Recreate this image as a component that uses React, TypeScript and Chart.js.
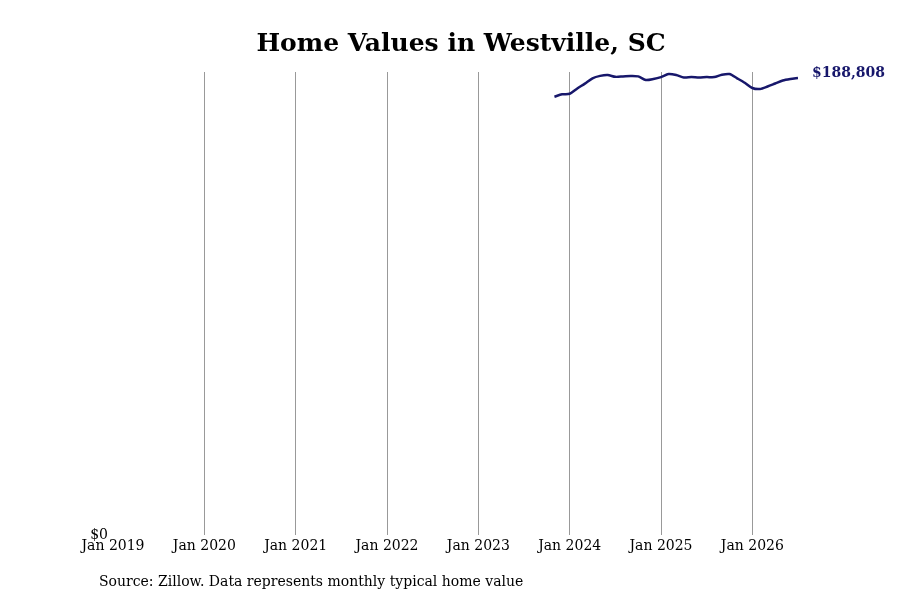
import { useEffect, useRef } from 'react'
import { Chart, registerables } from 'chart.js'
import type { Plugin } from 'chart.js'

Chart.register(...registerables)

const TITLE = 'Home Values in Westville, SC'
const SOURCE = 'Source: Zillow. Data represents monthly typical home value'

// x axis runs in months counted from Jan 2019
const tickLabels = ['Jan 2019', 'Jan 2020', 'Jan 2021', 'Jan 2022', 'Jan 2023', 'Jan 2024', 'Jan 2025', 'Jan 2026']

const months = [
  '2023-11', '2023-12',
  '2024-01', '2024-02', '2024-03', '2024-04', '2024-05', '2024-06',
  '2024-07', '2024-08', '2024-09', '2024-10', '2024-11', '2024-12',
  '2025-01', '2025-02', '2025-03', '2025-04', '2025-05', '2025-06',
  '2025-07', '2025-08', '2025-09', '2025-10', '2025-11', '2025-12',
  '2026-01', '2026-02', '2026-03', '2026-04', '2026-05', '2026-06',
  '2026-07',
]

const homeValues = [
  181100, 182100,
  182300, 184500, 186500, 188700, 189700, 190050,
  189300, 189450, 189650, 189500, 188000, 188400,
  189200, 190450, 190050, 189050, 189200, 189000,
  189200, 189200, 190180, 190460, 188700, 186870,
  184680, 184270, 185300, 186540, 187780, 188400,
  188808,
]

const NAVY = '#17176b'
const SERIF = '"DejaVu Serif", serif'

const monthIndex = (m: string) => {
  const [y, mo] = m.split('-').map(Number)
  return (y - 2019) * 12 + (mo - 1)
}

const textPlugin: Plugin<'line'> = {
  id: 'texts',
  afterDatasetsDraw(chart) {
    const { ctx } = chart
    ctx.save()
    ctx.fillStyle = '#000'
    ctx.textBaseline = 'middle'
    ctx.textAlign = 'center'
    ctx.font = `bold 25px ${SERIF}`
    ctx.fillText(TITLE, 461, 44)
    ctx.textAlign = 'left'
    ctx.font = `14px ${SERIF}`
    ctx.fillText(SOURCE, 99, 582)

    const pts = chart.getDatasetMeta(0).data
    const last = pts[pts.length - 1]
    if (last) {
      const v = homeValues[homeValues.length - 1]
      ctx.fillStyle = NAVY
      ctx.font = `bold 14px ${SERIF}`
      ctx.fillText('$' + v.toLocaleString('en-US'), last.x + 14, last.y - 5)
    }
    ctx.restore()
  },
}

export default function App() {
  const canvasRef = useRef<HTMLCanvasElement>(null)
  const chartRef = useRef<Chart | null>(null)

  useEffect(() => {
    document.body.style.margin = '0'
    if (!canvasRef.current) return
    chartRef.current?.destroy()

    chartRef.current = new Chart(canvasRef.current, {
      type: 'line',
      data: {
        datasets: [
          {
            label: 'Home value',
            data: months.map((m, i) => ({ x: monthIndex(m), y: homeValues[i] })),
            borderColor: NAVY,
            borderWidth: 2.5,
            pointRadius: 0,
            tension: 0.25,
            fill: false,
          },
        ],
      },
      options: {
        animation: false,
        responsive: true,
        maintainAspectRatio: false,
        layout: { padding: { left: 83, right: 102, top: 72, bottom: 40 } },
        plugins: {
          legend: { display: false },
          tooltip: { enabled: false },
        },
        scales: {
          x: {
            type: 'linear',
            min: 0,
            max: 90,
            border: { display: false },
            grid: {
              drawTicks: false,
              color: c => (c.tick && c.tick.value > 0 && c.tick.value % 12 === 0 ? '#999999' : 'rgba(0,0,0,0)'),
              lineWidth: 1,
            },
            ticks: {
              stepSize: 12,
              autoSkip: false,
              maxRotation: 0,
              includeBounds: false,
              padding: 3,
              color: '#000',
              font: { family: SERIF, size: 14 },
              callback: v => tickLabels[Number(v) / 12] ?? '',
            },
            afterFit: s => { s.height = 25 },
          },
          y: {
            min: 0,
            max: 191300,
            border: { display: false },
            grid: { display: false, drawTicks: false },
            afterBuildTicks: s => { s.ticks = [{ value: 0 }] },
            ticks: {
              padding: 5,
              color: '#000',
              font: { family: SERIF, size: 14 },
              callback: () => '$0',
            },
            afterFit: s => { s.width = 30 },
          },
        },
      },
      plugins: [textPlugin],
    })

    return () => chartRef.current?.destroy()
  }, [])

  return (
    <div style={{ width: 900, height: 600, position: 'relative' }}>
      <canvas ref={canvasRef} />
    </div>
  )
}
